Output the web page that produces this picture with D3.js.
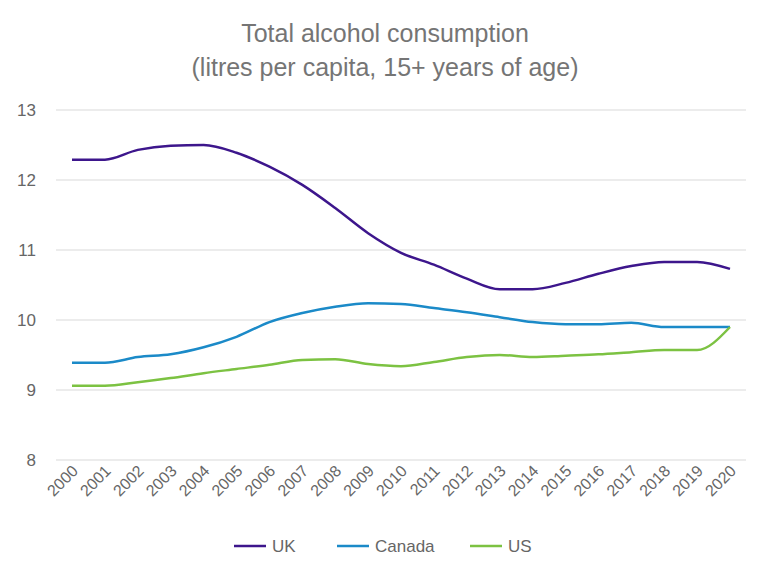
<!DOCTYPE html>
<html><head><meta charset="utf-8">
<script src="https://cdn.jsdelivr.net/npm/d3@7"></script>
<style>body{margin:0;background:#fff;font-family:"Liberation Sans",Arial,sans-serif;}</style>
</head><body><svg id="c"></svg>
<script>
const years = d3.range(2000, 2021);
const uk = [12.29,12.29,12.43,12.49,12.5,12.39,12.19,11.93,11.6,11.24,10.96,10.79,10.59,10.44,10.44,10.53,10.66,10.77,10.83,10.83,10.73];
const canada = [9.39,9.39,9.47,9.51,9.61,9.76,9.97,10.1,10.19,10.24,10.23,10.17,10.11,10.04,9.97,9.94,9.94,9.96,9.9,9.9,9.9];
const us = [9.06,9.06,9.11,9.17,9.24,9.3,9.36,9.43,9.44,9.37,9.34,9.4,9.47,9.5,9.47,9.49,9.51,9.54,9.57,9.57,9.9];
const yTicks = [8,9,10,11,12,13];

const width = 770, height = 579;
const series = [
  {name:"UK", values:uk, color:"#3d168c"},
  {name:"Canada", values:canada, color:"#1b8ac8"},
  {name:"US", values:us, color:"#7cc242"}
];
const svg = d3.select("#c").attr("width", width).attr("height", height);
const x = d3.scalePoint().domain(years).range([72, 730]);
const y = d3.scaleLinear().domain([8, 13]).range([460, 110]);

// gridlines
svg.append("g").selectAll("line").data(yTicks).join("line")
  .attr("x1", 56).attr("x2", 746)
  .attr("y1", d => y(d)).attr("y2", d => y(d))
  .attr("stroke", "#d9d9d9").attr("stroke-width", 1);

svg.append("g").selectAll("text").data(yTicks).join("text")
  .attr("x", 36).attr("y", d => y(d) + 6)
  .attr("text-anchor", "end").attr("fill", "#666").style("font-size", "17px")
  .text(d => d);

svg.append("g").selectAll("text").data(years).join("text")
  .attr("transform", d => `translate(${x(d) + 7},${472}) rotate(-45)`)
  .attr("text-anchor", "end").attr("fill", "#666").style("font-size", "16px")
  .text(d => d);

const line = d3.line().x((d, i) => x(years[i])).y(d => y(d)).curve(d3.curveMonotoneX);
svg.append("g").selectAll("path").data(series).join("path")
  .attr("d", d => line(d.values)).attr("fill", "none")
  .attr("stroke", d => d.color).attr("stroke-width", 2.5);

// title
svg.append("text").attr("x", 385).attr("y", 42).attr("text-anchor", "middle")
  .attr("fill", "#757575").style("font-size", "25px").text("Total alcohol consumption");
svg.append("text").attr("x", 385).attr("y", 76).attr("text-anchor", "middle")
  .attr("fill", "#757575").style("font-size", "25px").text("(litres per capita, 15+ years of age)");

// legend
const lx = [234, 337, 470];
const lg = svg.append("g").selectAll("g").data(series).join("g")
  .attr("transform", (d, i) => `translate(${lx[i]},546)`);
lg.append("line").attr("x1", 0).attr("x2", 32).attr("stroke", d => d.color).attr("stroke-width", 2.5);
lg.append("text").attr("x", 38).attr("y", 6).attr("fill", "#666").style("font-size", "17px").text(d => d.name);
</script></body></html>
